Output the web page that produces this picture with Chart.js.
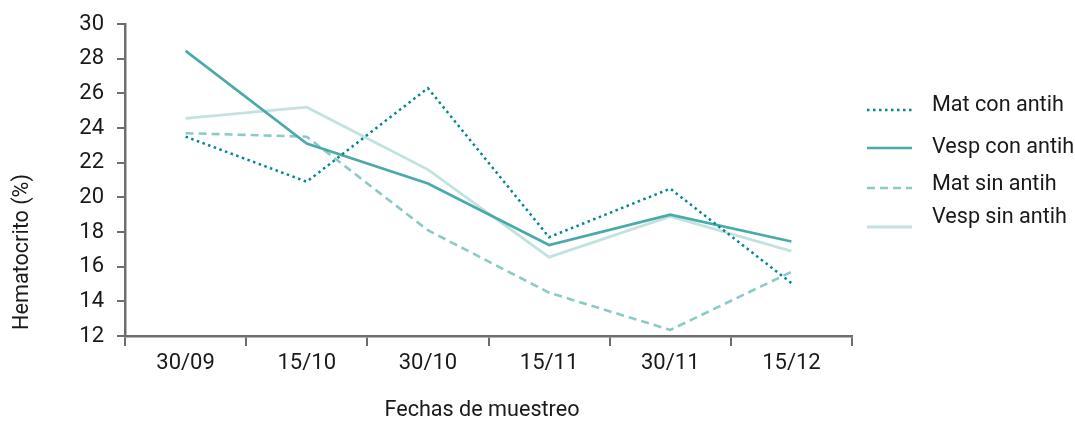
<!DOCTYPE html>
<html>
<head>
<meta charset="utf-8">
<script src="https://cdn.jsdelivr.net/npm/chart.js@4"></script>
<style>
html,body{margin:0;padding:0;background:#fff;}
#wrap{width:1075px;height:423px;position:relative;}
</style>
</head>
<body>
<div id="wrap"><canvas id="c" width="1075" height="423"></canvas></div>
<script>
const categories = ['30/09', '15/10', '30/10', '15/11', '30/11', '15/12'];
const matConAntih = [23.5, 20.9, 26.3, 17.7, 20.5, 15.05];
const vespConAntih = [28.45, 23.1, 20.8, 17.25, 19.0, 17.45];
const matSinAntih = [23.7, 23.5, 18.1, 14.5, 12.35, 15.7];
const vespSinAntih = [24.55, 25.2, 21.6, 16.55, 18.9, 16.9];
const seriesNames = ['Mat con antih', 'Vesp con antih', 'Mat sin antih', 'Vesp sin antih'];
const yTicks = [12, 14, 16, 18, 20, 22, 24, 26, 28, 30];
const xTitle = 'Fechas de muestreo';
const yTitle = 'Hematocrito (%)';

const FONT = 'Roboto';
const AXIS = '#6d6e71';
const TXT = '#1a1a1a';

const legendTextY = [106, 148, 185, 218];
const legendLineY = [110, 148, 188, 227];

const extrasPlugin = {
  id: 'extras',
  afterDraw(chart) {
    const ctx = chart.ctx;
    ctx.save();
    ctx.fillStyle = TXT;
    ctx.font = '21.6px ' + FONT;
    ctx.textBaseline = 'middle';
    ctx.textAlign = 'center';
    ctx.fillText(xTitle, 482, 411);
    ctx.save();
    ctx.translate(23, 252);
    ctx.rotate(-Math.PI / 2);
    ctx.fillText(yTitle, 0, 0);
    ctx.restore();
    ctx.restore();
    chart.data.datasets.forEach((ds, i) => {
      ctx.save();
      ctx.strokeStyle = ds.borderColor;
      ctx.lineWidth = ds.borderWidth;
      ctx.setLineDash(ds.borderDash || []);
      ctx.beginPath();
      const ly = legendLineY[i];
      ctx.moveTo(867, ly);
      ctx.lineTo(912, ly);
      ctx.stroke();
      ctx.setLineDash([]);
      ctx.fillStyle = TXT;
      ctx.font = '21.6px ' + FONT;
      ctx.textBaseline = 'middle';
      ctx.textAlign = 'left';
      ctx.fillText(ds.label, 932, legendTextY[i]);
      ctx.restore();
    });
  }
};

new Chart(document.getElementById('c'), {
  type: 'line',
  data: {
    labels: categories,
    datasets: [
      { label: seriesNames[0], data: matConAntih, borderColor: '#00888a', borderWidth: 2.5, borderDash: [2.5, 3.5] },
      { label: seriesNames[1], data: vespConAntih, borderColor: '#4aaaa9', borderWidth: 2.6 },
      { label: seriesNames[2], data: matSinAntih, borderColor: '#8ccac7', borderWidth: 2.6, borderDash: [8, 5] },
      { label: seriesNames[3], data: vespSinAntih, borderColor: '#c2e2e0', borderWidth: 2.8 }
    ].map(d => Object.assign({ pointRadius: 0, pointHoverRadius: 0, tension: 0, fill: false }, d))
  },
  options: {
    responsive: false,
    animation: false,
    events: [],
    layout: { padding: { left: 0, right: 223, top: 24, bottom: 0 } },
    plugins: { legend: { display: false }, tooltip: { enabled: false } },
    scales: {
      x: {
        offset: true,
        grid: { offset: true, drawOnChartArea: false, drawTicks: true, tickLength: 10, color: AXIS, lineWidth: 2 },
        border: { color: AXIS, width: 2.5 },
        ticks: { color: TXT, font: { family: FONT, size: 22 }, padding: 4, maxRotation: 0 },
        afterFit(scale) { scale.height = 87; scale.paddingLeft = 0; scale.paddingRight = 0; }
      },
      y: {
        min: yTicks[0],
        max: yTicks[yTicks.length - 1],
        afterBuildTicks(scale) { scale.ticks = yTicks.map(v => ({ value: v })); },
        grid: { drawOnChartArea: false, drawTicks: true, tickLength: 8, color: AXIS, lineWidth: 2 },
        border: { color: AXIS, width: 2.5 },
        ticks: { color: TXT, font: { family: FONT, size: 22 }, padding: 13 },
        afterFit(scale) { scale.width = 125; scale.paddingTop = 0; scale.paddingBottom = 0; }
      }
    }
  },
  plugins: [extrasPlugin]
});
</script>
</body>
</html>
